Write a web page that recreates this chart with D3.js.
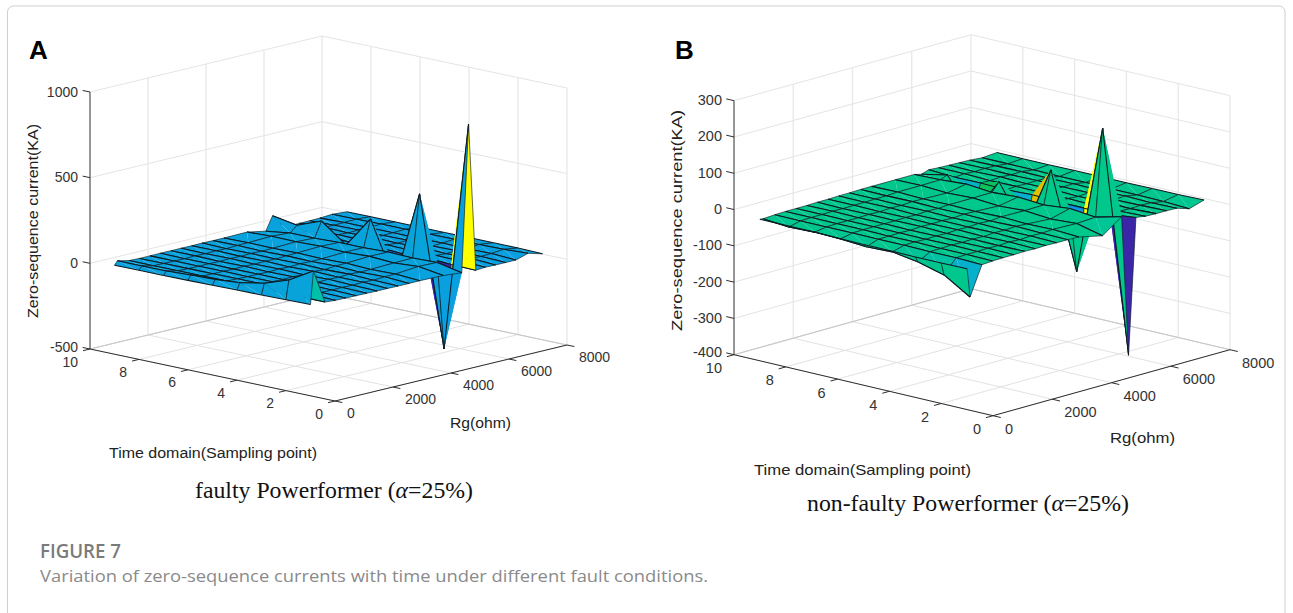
<!DOCTYPE html>
<html>
<head>
<meta charset="utf-8">
<script src="https://cdn.jsdelivr.net/npm/d3@7"></script>
<style>
  html, body { margin: 0; padding: 0; background: #fff; }
  svg { display: block; }
  text { font-family: "Liberation Sans", Arial, sans-serif; }
</style>
</head>
<body>
<div id="chart"></div>
<script>
// sampling points, one column per entry of the z rows below
const timeSamples = [1, 2, 3, 4, 5, 6, 7, 8, 9];
// Rg rows, dense in two groups
const rgSamples = [0, 100, 500, 860, 1220, 1580, 1940, 2300, 2660, 3020, 3400, 3770, 4570, 5215, 5450, 5700, 6030, 6380, 6730, 7080, 7500, 8000];

const timeTicks = [0, 2, 4, 6, 8, 10];
const rgTicks = [0, 2000, 4000, 6000, 8000];
const faultyZTicks = [-500, 0, 500, 1000];
const healthyZTicks = [-400, -300, -200, -100, 0, 100, 200, 300];

// zero-sequence current, faulty feeder (rows follow rgSamples, columns timeSamples)
const faultyZ = [
  [33, 30, 28, 26, 24, 22, 20, 20, 19],
  [224, 141, 92, 65, 54, 49, 42, 41, 41],
  [27, 28, 28, 28, 28, 27, 27, 26, 26],
  [22, 24, 25, 26, 26, 25, 25, 25, 24],
  [21, 23, 24, 25, 24, 25, 24, 24, 24],
  [20, 22, 24, 23, 24, 23, 24, 23, 25],
  [19, 23, 22, 25, 22, 25, 23, 25, 24],
  [18, 21, 25, 21, 25, 22, 25, 23, 25],
  [18, 24, 22, 26, 22, 25, 23, 25, 24],
  [17, 21, 26, 22, 26, 23, 25, 23, 25],
  [17, 25, 22, 27, 23, 26, 23, 26, 24],
  [18, 26, 23, 29, 24, 28, 25, 27, 24],
  [15, 38, 28, 36, 30, 34, 30, 32, 26],
  [5, 35, 30, 35, 30, 30, 25, 25, 5],
  [864, -479, 395, -145, 188, 5, 115, 60, 85],
  [0, 3, 10, 5, 12, 5, 15, 15, 30],
  [4, 8, 12, 9, 13, 9, 12, 8, 2],
  [3, 11, 8, 12, 8, 11, 8, 10, 3],
  [3, 8, 11, 8, 12, 9, 11, 8, 4],
  [3, 11, 8, 11, 9, 11, 9, 10, 5],
  [25, 18, 16, 16, 15, 14, 14, 12, 10],
  [2, 5, 6, 6, 5, 5, 6, 6, 4]
];

// zero-sequence current, non-faulty feeder
const healthyZ = [
  [-12, -13, -13, -12, -12, -11, -10, -10, -10],
  [-92, -48, -29, -18, -21, -16, -14, -17, -11],
  [-12, -10, -10, -9, -9, -9, -9, -9, -9],
  [-10, -9, -9, -8, -9, -8, -8, -8, -8],
  [-9, -9, -8, -9, -8, -8, -8, -8, -8],
  [-9, -8, -9, -8, -9, -8, -8, -7, -8],
  [-8, -9, -8, -9, -7, -8, -7, -8, -7],
  [-9, -7, -9, -7, -8, -7, -8, -7, -7],
  [-8, -9, -7, -8, -7, -8, -6, -7, -6],
  [-9, -7, -8, -6, -8, -6, -7, -6, -6],
  [-9, -8, -6, -8, -6, -7, -5, -6, -5],
  [-10, -6, -8, -5, -7, -5, -6, -4, -5],
  [-25, -8, -12, -6, -10, -5, -8, -4, -5],
  [13, -5, 2, -5, 0, -4, 2, -3, -5],
  [-374, 235, -177, 86, -95, 20, -85, 5, -10],
  [0, -9, -8, -8, -5, -8, -6, -7, -3],
  [-4, -7, -8, -6, -7, -6, -7, -5, -5],
  [-5, -8, -6, -8, -6, -7, -5, -7, -6],
  [-5, -7, -8, -6, -7, -6, -7, -6, -7],
  [-6, -8, -6, -7, -6, -7, -6, -7, -8],
  [-17, -14, -13, -13, -12, -12, -11, -11, -11],
  [-4, -6, -6, -7, -7, -7, -8, -8, -8]
];

// parula-like colour ramp as it appears in the figure
const rampStops = [0, 0.1, 0.25, 0.3, 0.357, 0.463, 0.52, 0.6, 0.636, 0.647, 0.7, 0.755, 1];
const rampColors = ["#3c26a8", "#3040d8", "#1a6ef0", "#1088ea", "#0a9fe0", "#05b0cc", "#00c0a8", "#00c78a", "#00c78a", "#08c45c", "#90c030", "#e0c000", "#ffff00"];

const width = 1293;
const height = 613;

const svg = d3.select("#chart")
  .append("svg")
  .attr("width", width)
  .attr("height", height);

// card outline
svg.append("path")
  .attr("d", "M7.5,613V12a6,6 0 0 1 6,-6H1279a6,6 0 0 1 6,6V613")
  .attr("fill", "none")
  .attr("stroke", "#cfcfcf")
  .attr("stroke-width", 1);

function drawPanel(p) {
  const g = svg.append("g");

  const tX = d3.scaleLinear([0, 10], [0, p.timeVec[0]]);
  const tY = d3.scaleLinear([0, 10], [0, p.timeVec[1]]);
  const rX = d3.scaleLinear([0, 8000], [0, p.rgVec[0]]);
  const rY = d3.scaleLinear([0, 8000], [0, p.rgVec[1]]);
  const zY = d3.scaleLinear(p.zDomain, [0, -p.zPixels]);

  const project = (t, r, z) => [
    p.origin[0] + tX(t) + rX(r),
    p.origin[1] + tY(t) + rY(r) + zY(z)
  ];
  const zMin = p.zDomain[0];
  const zMax = p.zDomain[1];

  const segs = (data, fn, color, w, cls) => g.selectAll("line." + cls)
    .data(data)
    .enter()
    .append("line")
    .attr("class", cls)
    .attr("x1", d => fn(d)[0][0])
    .attr("y1", d => fn(d)[0][1])
    .attr("x2", d => fn(d)[1][0])
    .attr("y2", d => fn(d)[1][1])
    .attr("stroke", color)
    .attr("stroke-width", w);

  // floor grid
  segs(timeTicks, t => [project(t, 0, zMin), project(t, 8000, zMin)], "#e2e2e2", 1, "floor-t");
  segs(rgTicks, r => [project(0, r, zMin), project(10, r, zMin)], "#e2e2e2", 1, "floor-r");
  // wall at t = 10
  segs(rgTicks.slice(1), r => [project(10, r, zMin), project(10, r, zMax)], "#e8e8e8", 1.3, "wall-r");
  segs(p.zTicks, z => [project(10, 0, z), project(10, 8000, z)], "#e4e4e4", 1, "wall-tz");
  // wall at Rg = 8000
  segs(timeTicks.slice(0, -1), t => [project(t, 8000, zMin), project(t, 8000, zMax)], "#e8e8e8", 1.3, "wall-t");
  segs(p.zTicks, z => [project(0, 8000, z), project(10, 8000, z)], "#e4e4e4", 1, "wall-rz");
  // back floor edges read darker
  segs([0], () => [project(10, 0, zMin), project(10, 8000, zMin)], "#c6c6c6", 1, "back-a");
  segs([0], () => [project(0, 8000, zMin), project(10, 8000, zMin)], "#c6c6c6", 1, "back-b");

  // surface, each cell is split along one diagonal like the original renderer does
  const flat = p.z.flat();
  const color = d3.scaleLinear()
    .domain(rampStops.map(s => d3.min(flat) + s * (d3.max(flat) - d3.min(flat))))
    .range(rampColors);

  const prims = [];
  for (let j = timeSamples.length - 2; j >= 0; j--) {
    for (let i = rgSamples.length - 2; i >= 0; i--) {
      const a = project(timeSamples[j], rgSamples[i], p.z[i][j]);
      const b = project(timeSamples[j + 1], rgSamples[i], p.z[i][j + 1]);
      const c = project(timeSamples[j + 1], rgSamples[i + 1], p.z[i + 1][j + 1]);
      const e = project(timeSamples[j], rgSamples[i + 1], p.z[i + 1][j]);
      const fill = color(p.z[i][j]);
      prims.push({ pts: [a, b, c], fill: fill, w: 0, close: true });
      prims.push({ pts: [a, c, e], fill: fill, w: 0, close: true });
      // mesh lines along time read heavier than the cross lines
      prims.push({ pts: [b, c], fill: "none", w: 0.65, close: false });
      prims.push({ pts: [e, a], fill: "none", w: 0.65, close: false });
      prims.push({ pts: [a, b], fill: "none", w: 1.05, close: false });
      prims.push({ pts: [e, c], fill: "none", w: 1.05, close: false });
    }
  }
  const line = d3.line();
  g.selectAll("path.face")
    .data(prims)
    .enter()
    .append("path")
    .attr("class", "face")
    .attr("d", d => line(d.pts) + (d.close ? "Z" : ""))
    .attr("fill", d => d.fill)
    .attr("stroke", d => d.w ? "#0e1a22" : "none")
    .attr("stroke-width", d => d.w)
    .attr("stroke-linejoin", "round");

  // axis lines
  const axisColor = "#2e2e2e";
  segs([0], () => [project(0, 0, zMin), project(10, 0, zMin)], axisColor, 1, "axis-t");
  segs([0], () => [project(0, 0, zMin), project(0, 8000, zMin)], axisColor, 1, "axis-r");
  segs([0], () => [project(10, 0, zMin), project(10, 0, zMax)], axisColor, 1, "axis-z");

  // ticks point outward along the neighbouring axis
  const tickLen = 0.03;
  segs(timeTicks, t => [project(t, 0, zMin), project(t, -8000 * tickLen, zMin)], axisColor, 1, "tick-t");
  segs(rgTicks, r => [project(0, r, zMin), project(-10 * tickLen, r, zMin)], axisColor, 1, "tick-r");
  segs(p.zTicks, z => [project(10, 0, z), project(10 + 10 * tickLen, 0, z)], axisColor, 1, "tick-z");

  const labels = (data, fn, anchor, cls) => g.selectAll("text." + cls)
    .data(data)
    .enter()
    .append("text")
    .attr("class", cls)
    .attr("x", d => fn(d)[0])
    .attr("y", d => fn(d)[1])
    .attr("text-anchor", anchor)
    .attr("font-size", p.tickSize)
    .attr("fill", "#333")
    .text(d => d);

  labels(timeTicks, t => {
    const a = project(t, 0, zMin);
    return [a[0] + p.tLabel[0], a[1] + p.tLabel[1]];
  }, "end", "lab-t");
  labels(rgTicks, r => {
    const a = project(0, r, zMin);
    return [a[0] + p.rLabel[0], a[1] + p.rLabel[1]];
  }, "start", "lab-r");
  // the lowest z label sits a little above its tick
  labels(p.zTicks, z => {
    const a = project(10, 0, z);
    return [a[0] + p.zLabel[0], a[1] + p.zLabel[1] - (z === zMin ? 2 : 0)];
  }, "end", "lab-z");

  const fitted = (txt, x, y, len, size) => g.append("text")
    .attr("x", x)
    .attr("y", y)
    .attr("font-size", size)
    .attr("fill", "#222")
    .attr("textLength", len)
    .attr("lengthAdjust", "spacingAndGlyphs")
    .text(txt);

  fitted("Rg(ohm)", p.rgTitle[0], p.rgTitle[1], p.rgTitle[2], p.tickSize);
  fitted("Time domain(Sampling point)", p.timeTitle[0], p.timeTitle[1], p.timeTitle[2], p.tickSize);

  g.append("text")
    .attr("transform", `translate(${p.zTitle[0]},${p.zTitle[1]}) rotate(-90)`)
    .attr("font-size", p.tickSize)
    .attr("fill", "#222")
    .attr("textLength", p.zTitle[2])
    .attr("lengthAdjust", "spacingAndGlyphs")
    .text("Zero-sequence current(KA)");

  // panel letter
  g.append("text")
    .attr("x", p.letter[0])
    .attr("y", p.letter[1])
    .attr("font-size", 26)
    .attr("font-weight", "bold")
    .attr("fill", "#000")
    .text(p.name);

  // caption below the panel
  const cap = g.append("text")
    .attr("x", p.caption[0])
    .attr("y", p.caption[1])
    .attr("font-size", p.caption[3])
    .attr("fill", "#111")
    .attr("textLength", p.caption[2])
    .attr("lengthAdjust", "spacingAndGlyphs")
    .style("font-family", '"Liberation Serif", serif');
  cap.append("tspan").text(p.captionText + " (");
  cap.append("tspan").attr("font-style", "italic").text("α");
  cap.append("tspan").text("=25%)");
}

drawPanel({
  name: "A",
  z: faultyZ,
  zTicks: faultyZTicks,
  zDomain: [-500, 1000],
  origin: [335, 401],
  timeVec: [-245, -52],
  rgVec: [232, -56],
  zPixels: 257,
  tickSize: 14,
  tLabel: [-12, 17.5],
  rLabel: [12, 17],
  zLabel: [-12, 4.5],
  rgTitle: [450, 428, 61],
  timeTitle: [109, 458, 208],
  zTitle: [38, 318, 194],
  letter: [29, 59],
  caption: [195, 498, 278, 23],
  captionText: "faulty Powerformer"
});

drawPanel({
  name: "B",
  z: healthyZ,
  zTicks: healthyZTicks,
  zDomain: [-400, 300],
  origin: [993, 415.7],
  timeVec: [-259, -61],
  rgVec: [237, -66],
  zPixels: 254,
  tickSize: 14.5,
  tLabel: [-12, 18.5],
  rLabel: [12, 18],
  zLabel: [-12, 4.5],
  rgTitle: [1110, 443, 65],
  timeTitle: [754, 475, 217],
  zTitle: [682, 331, 221],
  letter: [675, 59],
  caption: [807, 511, 322, 23],
  captionText: "non-faulty Powerformer"
});

// figure footer
svg.append("text")
  .attr("x", 40)
  .attr("y", 558)
  .attr("font-size", 19)
  .attr("font-weight", 600)
  .attr("fill", "#7a7a7a")
  .attr("textLength", 81)
  .attr("lengthAdjust", "spacingAndGlyphs")
  .style("font-family", '"Open Sans", sans-serif')
  .text("FIGURE 7");

svg.append("text")
  .attr("x", 40)
  .attr("y", 582)
  .attr("font-size", 16)
  .attr("fill", "#8a8a8a")
  .attr("textLength", 668)
  .attr("lengthAdjust", "spacingAndGlyphs")
  .style("font-family", '"Open Sans", sans-serif')
  .text("Variation of zero-sequence currents with time under different fault conditions.");
</script>
</body>
</html>
